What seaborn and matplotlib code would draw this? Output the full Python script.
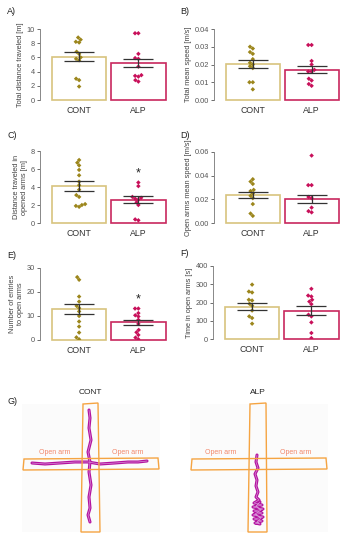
import numpy as np
import pandas as pd
import matplotlib
matplotlib.use("Agg")
import matplotlib.pyplot as plt
from matplotlib.patches import Polygon, Rectangle
import seaborn as sns

sns.set_style("white")
plt.rcParams['font.family'] = ['Liberation Sans', 'DejaVu Sans']

groups = ["CONT", "ALP"]

# A) total distance traveled [m]
a_cont = [8.8, 8.5, 8.2, 8.1, 6.8, 6.5, 6.0, 5.8, 5.6, 3.0, 2.8, 1.9]
a_alp = [9.4, 9.4, 6.5, 5.9, 5.8, 4.7, 3.5, 3.4, 3.3, 2.8, 2.6]
a_mean = [6.1, 5.2]
a_sem = [0.65, 0.62]

# B) total mean speed [m/s]
b_cont = [0.030, 0.029, 0.027, 0.026, 0.023, 0.021, 0.020, 0.019, 0.018, 0.010, 0.010, 0.006]
b_alp = [0.031, 0.031, 0.022, 0.020, 0.017, 0.016, 0.016, 0.012, 0.011, 0.009, 0.008]
b_mean = [0.0202, 0.0170]
b_sem = [0.0022, 0.0019]

# C) distance traveled in opened arms [m]
c_cont = [7.0, 6.7, 6.4, 5.9, 5.3, 4.6, 4.2, 3.7, 3.1, 2.9, 2.1, 2.0, 1.9, 1.8]
c_alp = [4.5, 4.1, 2.9, 2.8, 2.7, 2.6, 2.3, 2.0, 0.4, 0.3]
c_mean = [4.1, 2.6]
c_sem = [0.52, 0.36]

# D) open arms mean speed [m/s]
d_cont = [0.037, 0.035, 0.033, 0.028, 0.027, 0.025, 0.023, 0.021, 0.016, 0.008, 0.006]
d_alp = [0.057, 0.032, 0.032, 0.022, 0.021, 0.013, 0.010, 0.009]
d_mean = [0.0237, 0.0203]
d_sem = [0.0026, 0.0037]

# E) number of entries to open arms
e_cont = [26.2, 25.1, 18.1, 16.0, 14.2, 13.3, 11.9, 10.0, 7.7, 5.6, 3.1, 1.1, 0.3]
e_alp = [13.1, 13.1, 11.2, 10.3, 9.8, 8.4, 6.7, 4.2, 3.2, 2.1, 1.0, 0.3]
e_mean = [12.8, 7.3]
e_sem = [2.05, 1.2]

# F) time in open arms [s]
f_cont = [298, 260, 255, 215, 211, 193, 182, 156, 124, 115, 84]
f_alp = [275, 238, 233, 215, 205, 191, 133, 124, 91, 33, 5]
f_mean = [178, 156]
f_sem = [20, 24]

# G) example tracks (image pixel coordinates)
cont_track_v = [(89, 410), (90, 418), (89, 428), (91, 440), (88, 452), (90, 462),
                (89, 472), (91, 485), (89, 497), (90, 508), (88, 515), (90, 522)]
cont_track_h = [(32, 463), (45, 464), (60, 463), (75, 462), (88, 462), (100, 464),
                (115, 463), (128, 462), (138, 462), (147, 461)]
alp_track = [(257, 455), (256, 462), (258, 468), (255, 474), (257, 480), (256, 486),
             (258, 492), (256, 497), (259, 500), (254, 503), (262, 505), (253, 507),
             (263, 509), (254, 511), (262, 513), (253, 515), (263, 517), (254, 519),
             (262, 521), (255, 523), (260, 524), (257, 522), (261, 518), (255, 514),
             (261, 510), (256, 506), (260, 502)]

edge_pal = {"CONT": "#d8c47e", "ALP": "#c8285e"}
dot_pal = {"CONT": "#9c861c", "ALP": "#c8105a"}

W, H = 346, 550
fig = plt.figure(figsize=(W / 100, H / 100), dpi=100)


def px_axes(x0, y0, x1, y1):
    return fig.add_axes([x0 / W, 1 - y1 / H, (x1 - x0) / W, (y1 - y0) / H])


def bar_panel(box, cont, alp, means, sems, yticks, ylabel, fmt, star=None):
    ax = px_axes(*box)
    df = pd.DataFrame({"group": ["CONT"] * len(cont) + ["ALP"] * len(alp),
                       "value": cont + alp})
    sns.barplot(x=groups, y=means, hue=groups, palette=edge_pal, fill=False,
                width=0.92, linewidth=1.2, errorbar=None, legend=False, ax=ax)
    for p in ax.patches:
        p.set_clip_on(False)
    sns.swarmplot(data=df, x="group", y="value", hue="group", palette=dot_pal,
                  order=groups, marker="D", size=2.3, legend=False, ax=ax)
    ax.errorbar([0, 1], means, yerr=sems, fmt="none", ecolor="#333333",
                elinewidth=0.9, capsize=11, capthick=0.9, zorder=5)
    if star is not None:
        ax.text(1, star, "*", ha="center", va="center", fontsize=9, color="#222222")
    ax.set_xlim(-0.66, 1.5)
    ax.set_ylim(0, yticks[-1])
    ax.set_yticks(yticks)
    ax.set_yticklabels([fmt.format(t) for t in yticks])
    ax.set_xlabel("")
    ax.set_ylabel(ylabel, fontsize=5.3, color="#444444", labelpad=2)
    sns.despine(ax=ax, bottom=True)
    ax.spines["left"].set_color("#888888")
    ax.spines["left"].set_linewidth(0.7)
    ax.tick_params(axis="y", labelsize=5.3, colors="#555555", length=2, width=0.6, pad=1.5, left=True)
    ax.tick_params(axis="x", labelsize=6.3, length=0, pad=4, colors="#333333")
    return ax


bar_panel((40, 29, 168, 100), a_cont, a_alp, a_mean, a_sem, [0, 2, 4, 6, 8, 10],
          "Total distance traveled [m]", "{:g}")
bar_panel((214, 29, 341, 100), b_cont, b_alp, b_mean, b_sem, [0, 0.01, 0.02, 0.03, 0.04],
          "Total mean speed [m/s]", "{:.2f}")
bar_panel((40, 151, 168, 223), c_cont, c_alp, c_mean, c_sem, [0, 2, 4, 6, 8],
          "Distance traveled in\nopened arms [m]", "{:g}", star=5.5)
bar_panel((214, 152, 341, 223), d_cont, d_alp, d_mean, d_sem, [0, 0.02, 0.04, 0.06],
          "Open arms mean speed [m/s]", "{:.2f}")
bar_panel((40, 268, 168, 340), e_cont, e_alp, e_mean, e_sem, [0, 10, 20, 30],
          "Number of entries\nto open arms", "{:g}", star=16.8)
bar_panel((213, 266, 341, 339), f_cont, f_alp, f_mean, f_sem, [0, 100, 200, 300, 400],
          "Time in open arms [s]", "{:g}")

for lab, x, y in [("A)", 7, 12), ("B)", 180, 12), ("C)", 7, 136), ("D)", 180, 136),
                  ("E)", 7, 255), ("F)", 180, 253), ("G)", 7, 402)]:
    fig.text(x / W, 1 - y / H, lab, fontsize=6.5, color="#222222", va="center")

# G) maze tracks
maze_color = "#f5a442"
label_color = "#f2876a"
track_color = "#b3139f"


def maze_panel(x0, x1, title, tx, bg, v_arm, h_arm, labels, tracks):
    ax = px_axes(x0, 385, x1, 545)
    ax.set_xlim(x0, x1)
    ax.set_ylim(545, 385)
    ax.axis("off")
    ax.add_patch(Rectangle((bg[0], bg[1]), bg[2] - bg[0], bg[3] - bg[1],
                           facecolor="#fbfbfb", edgecolor="none", zorder=0))
    for arm in (h_arm, v_arm):
        ax.add_patch(Polygon(arm, closed=True, fill=False, edgecolor=maze_color,
                             linewidth=1.0, zorder=3))
    for lx, ly in labels:
        ax.text(lx, ly, "Open arm", ha="center", va="center", fontsize=5, color=label_color)
    for tr in tracks:
        xs, ys = zip(*tr)
        ax.plot(xs, ys, color=track_color, linewidth=2.2, solid_joinstyle="round", zorder=2)
        ax.plot(xs, ys, color="#d890d8", linewidth=0.5, zorder=2.5)
    ax.text(tx, 393, title, ha="center", va="center", fontsize=6, color="#222222")


maze_panel(0, 173, "CONT", 90, (22, 404, 160, 532),
           [(83, 404), (98, 403), (100, 532), (81, 532)],
           [(24, 459), (158, 458), (159, 469), (23, 470)],
           [(55, 452), (128, 452)], [cont_track_v, cont_track_h])
maze_panel(173, 346, "ALP", 258, (190, 404, 328, 532),
           [(250, 404), (266, 403), (267, 532), (248, 532)],
           [(192, 459), (326, 458), (327, 469), (191, 470)],
           [(221, 452), (296, 452)], [alp_track])

fig.savefig("out.png", dpi=100)
